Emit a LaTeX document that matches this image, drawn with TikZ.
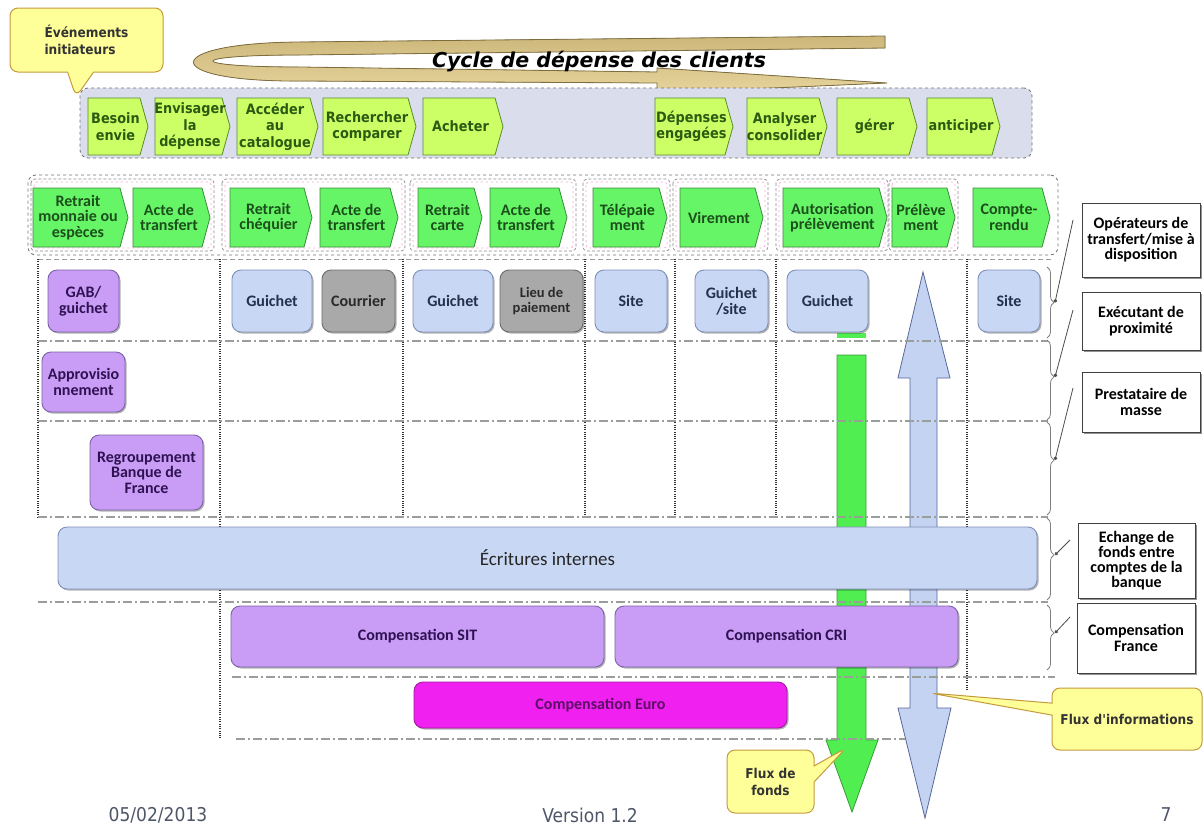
\documentclass[tikz,border=0pt]{standalone}
\usepackage{fontspec}
\setmainfont{DejaVu Sans}
\newfontfamily\calfont{Carlito}
\newfontfamily\tahfont[FakeStretch=0.9]{DejaVu Sans}
\usetikzlibrary{shapes.callouts,shadows,decorations.pathreplacing,arrows.meta}

\definecolor{limeF}{HTML}{CCFF66}
\definecolor{limeD}{HTML}{5A8A32}
\definecolor{limeT}{HTML}{2D5A12}
\definecolor{grnF}{HTML}{66F566}
\definecolor{grnD}{HTML}{3C8A3C}
\definecolor{grnT}{HTML}{1C4F1C}
\definecolor{purF}{HTML}{C99CF6}
\definecolor{purD}{HTML}{7B64A6}
\definecolor{purT}{HTML}{2F1254}
\definecolor{bluF}{HTML}{C8D7F4}
\definecolor{bluD}{HTML}{7F8FB8}
\definecolor{bluT}{HTML}{25304A}
\definecolor{gryF}{HTML}{A9A9A9}
\definecolor{gryD}{HTML}{6C6C6C}
\definecolor{gryT}{HTML}{2A2A2A}
\definecolor{magF}{HTML}{F020F0}
\definecolor{magD}{HTML}{A01CA0}
\definecolor{magT}{HTML}{5E0E66}
\definecolor{yelF}{HTML}{FFFF99}
\definecolor{yelD}{HTML}{C49A3C}
\definecolor{tanF}{HTML}{CDB77B}
\definecolor{tanL}{HTML}{E6D49C}
\definecolor{tanD}{HTML}{7E6D3D}
\definecolor{bandF}{HTML}{DADDEC}
\definecolor{lineG}{HTML}{9A9E98}
\definecolor{footT}{HTML}{4E5668}
\definecolor{arrB}{HTML}{C4D3F2}
\definecolor{arrBD}{HTML}{56679A}
\definecolor{arrG}{HTML}{50EE50}
\definecolor{arrGD}{HTML}{3A9A3A}

% chevron: style, name, x1, x2, y1, y2, text
\newcommand\chev[7]{%
  \path[#1] (#3,#5) -- ({#4-8},#5) -- (#4,{(#5+#6)/2}) -- ({#4-8},#6) -- (#3,#6) -- cycle;
  \node[#1 txt] (#2) at ({(#3+#4-5)/2},{(#5+#6)/2}) {#7};}

\tikzset{
  boxtxt/.style={font=\calfont\bfseries\fontsize{16}{15.5}\selectfont, align=center, inner sep=1pt},
  shad/.style={drop shadow={shadow xshift=1.5pt, shadow yshift=-1.5pt, opacity=.3, fill=black}},
  purbox/.style={boxtxt, shad, rounded corners=9pt, fill=purF, draw=purD, line width=.9pt, text=purT},
  blubox/.style={boxtxt, shad, rounded corners=9pt, fill=bluF, draw=bluD, line width=.9pt, text=bluT},
  grybox/.style={boxtxt, shad, rounded corners=9pt, fill=gryF, draw=gryD, line width=.9pt, text=gryT},
  magbox/.style={boxtxt, shad, rounded corners=9pt, fill=magF, draw=magD, line width=.9pt, text=magT},
  lblbox/.style={boxtxt, fill=white, draw=black!75, line width=.9pt,
    drop shadow={shadow xshift=1.8pt, shadow yshift=-1.8pt, opacity=.6, fill=black!70}},
  chA/.style={fill=limeF, draw=limeD, line width=.8pt},
  chA txt/.style={text=limeT, font=\tahfont\bfseries\fontsize{14.3}{16.5}\selectfont, align=center, inner sep=0pt},
  chB/.style={fill=grnF, draw=grnD, line width=.8pt},
  chB txt/.style={text=grnT, font=\calfont\bfseries\fontsize{16}{15.5}\selectfont, align=center, inner sep=0pt},
  yell/.style={rectangle callout, rounded corners=8pt, fill=yelF, draw=yelD, line width=1pt,
    font=\tahfont\bfseries\fontsize{13.5}{17}\selectfont, text=black!80, align=center, inner sep=2pt},
  vdot/.style={black!80, line width=1.1pt, dash pattern=on 1pt off 1.3pt},
  hdash/.style={lineG, line width=1.1pt, dash pattern=on 9pt off 3pt on 2pt off 3pt},
  grp/.style={rounded corners=4pt, draw=black!45, dash pattern=on 3pt off 2pt, line width=.7pt},
  grpin/.style={rounded corners=3pt, draw=magenta!35, dash pattern=on 2pt off 3pt, line width=.7pt},
  bracest/.style={decorate, draw=black!50, line width=.8pt},
  lead/.style={draw=black!70, line width=.8pt, -{Circle[length=3.5pt]}},
  foot/.style={font=\tahfont\fontsize{19}{22}\selectfont, text=footT},
}

\begin{document}
\begin{tikzpicture}[x=1pt,y=-1pt]
\useasboundingbox (0,0) rectangle (1204,838);
\fill[white] (0,0) rectangle (1204,838);

% ---- spending cycle loop arrow and title
\filldraw[top color=tanF, bottom color=tanL, draw=tanD, line width=.8pt]
  (885,36) -- (300,42) .. controls (158,43) and (158,82) .. (300,81)
  -- (657,83) -- (657,93) -- (887,83) -- (657,68) -- (657,72)
  -- (300,67) .. controls (184,67) and (184,55) .. (300,55) -- (885,48) -- cycle;
\node[font=\bfseries\itshape\fontsize{20.5}{24}\selectfont] (title) at (599,62) {Cycle de dépense des clients};

% ---- customer spending steps
\node[fill=bandF, draw=black!55, dashed, rounded corners=8pt, minimum width=952, minimum height=70, line width=.8pt] (cycleband) at (556,123) {};
\chev{chA}{c1}{88}{148}{98}{155}{Besoin\\envie}
\chev{chA}{c2}{155}{230}{98}{155}{Envisager\\la\\dépense}
\chev{chA}{c3}{237}{318}{98}{155}{Accéder\\au\\catalogue}
\chev{chA}{c4}{323}{416}{98}{155}{Rechercher\\comparer}
\chev{chA}{c5}{423}{503}{98}{155}{Acheter}
\chev{chA}{c6}{655}{733}{98}{155}{Dépenses\\engagées}
\chev{chA}{c7}{747}{827}{98}{155}{Analyser\\consolider}
\chev{chA}{c8}{837}{917}{98}{155}{gérer}
\chev{chA}{c9}{927}{1000}{98}{155}{anticiper}

% ---- payment instruments band
\node[draw=black!55, dashed, rounded corners=8pt, minimum width=1030, minimum height=80, line width=.8pt] (instrband) at (543,215) {};
\foreach \a/\b in {31/214, 222/405, 410/576, 583/670, 673/768, 776/888, 889/958}{
  \draw[grp] (\a,179) rectangle (\b,251);
  \draw[grpin] ({\a+3},182) rectangle ({\b-3},248);
}
\chev{chB}{d1}{33}{128}{188}{247}{Retrait\\monnaie ou\\espèces}
\chev{chB}{d2}{133}{210}{188}{247}{Acte de\\transfert}
\chev{chB}{d3}{230}{312}{188}{247}{Retrait\\chéquier}
\chev{chB}{d4}{320}{398}{188}{247}{Acte de\\transfert}
\chev{chB}{d5}{418}{482}{188}{247}{Retrait\\carte}
\chev{chB}{d6}{490}{567}{188}{247}{Acte de\\transfert}
\chev{chB}{d7}{593}{667}{188}{247}{Télépaie\\ment}
\chev{chB}{d8}{680}{763}{188}{247}{Virement}
\chev{chB}{d9}{783}{887}{188}{247}{Autorisation\\prélèvement}
\chev{chB}{d10}{892}{955}{188}{247}{Prélève\\ment}
\chev{chB}{d11}{973}{1050}{188}{247}{Compte-\\rendu}

% ---- flow arrows (funds in green, information in blue)
\fill[arrG] (837,333) rectangle (866,338);
\filldraw[fill=arrG, draw=arrGD, line width=.8pt]
  (837,355) -- (866,355) -- (866,740) -- (878,740) -- (852,812) -- (826,740) -- (837,740) -- cycle;
\filldraw[fill=arrB, draw=arrBD, line width=.8pt]
  (923,272) -- (950,378) -- (937,378) -- (937,708) -- (951,708) -- (925,818)
  -- (898,708) -- (910,708) -- (910,378) -- (898,378) -- cycle;

% ---- grid
\draw[lineG, line width=1pt, dash pattern=on 5pt off 3pt] (38,259) -- (1053,259);
\foreach \x/\yb in {38/517, 220/739, 403/517, 585/517, 675/517, 776/517, 967/690}
  \draw[vdot] (\x,259) -- (\x,\yb);
\foreach \y in {341,421,517,602}
  \draw[hdash] (38,\y) -- (1048,\y);
\draw[hdash] (232,677) -- (1055,677);
\draw[hdash] (236,739) -- (905,739);

% ---- actors
\node[purbox, minimum width=71, minimum height=62] (gab) at (83.5,301) {GAB/\\guichet};
\node[blubox, minimum width=80, minimum height=62] (gui1) at (272,301) {Guichet};
\node[grybox, minimum width=73, minimum height=62] (cour) at (358.5,301) {Courrier};
\node[blubox, minimum width=80, minimum height=62] (gui2) at (453,301) {Guichet};
\node[grybox, minimum width=83, minimum height=62, font=\calfont\bfseries\fontsize{14.5}{14.5}\selectfont] (lieu) at (541.5,301) {Lieu de\\paiement};
\node[blubox, minimum width=72, minimum height=62] (site1) at (631,301) {Site};
\node[blubox, minimum width=73, minimum height=62] (guisite) at (731.5,301) {Guichet\\/site};
\node[blubox, minimum width=81, minimum height=62] (gui3) at (827.5,301) {Guichet};
\node[blubox, minimum width=62, minimum height=62] (site2) at (1009,301) {Site};
\node[purbox, minimum width=83, minimum height=60] (appro) at (83.5,382) {Approvisio\\nnement};
\node[purbox, minimum width=113, minimum height=75] (regr) at (146.5,472.5) {Regroupement\\Banque de\\France};
\node[blubox, minimum width=979, minimum height=62, font=\calfont\fontsize{19}{22}\selectfont, text=black!85] (ecr) at (547.5,558) {Écritures internes};
\node[purbox, minimum width=373, minimum height=61] (sit) at (417.5,636.5) {Compensation SIT};
\node[purbox, minimum width=343, minimum height=61] (cri) at (786.5,636.5) {Compensation CRI};
\node[magbox, minimum width=373, minimum height=46] (euro) at (600.5,705) {Compensation Euro};

% ---- layer labels
\node[lblbox, minimum width=118, minimum height=74] (oper) at (1141,240) {Opérateurs de\\transfert/mise à\\disposition};
\node[lblbox, minimum width=118, minimum height=58] (exec) at (1141,321) {Exécutant de\\proximité};
\node[lblbox, minimum width=118, minimum height=60] (prest) at (1141,402) {Prestataire de\\masse};
\node[lblbox, minimum width=117, minimum height=75, font=\calfont\bfseries\fontsize{16}{15}\selectfont] (ech) at (1136.5,560.5) {Echange de\\fonds entre\\comptes de la\\banque};
\node[lblbox, minimum width=118, minimum height=70] (cfr) at (1136,638) {Compensation\\France};

\draw[bracest, decoration={brace, amplitude=7pt, aspect=0.5}] (1047,267) -- (1047,338);
\draw[bracest, decoration={brace, amplitude=7pt, aspect=0.46}] (1047,340) -- (1047,420);
\draw[bracest, decoration={brace, amplitude=7pt, aspect=0.41}] (1047,422) -- (1047,515);
\draw[bracest, decoration={brace, amplitude=7pt, aspect=0.45}] (1047,518) -- (1047,600);
\draw[bracest, decoration={brace, amplitude=7pt, aspect=0.43}] (1047,605) -- (1047,670);

\coordinate (bt1) at (1055,302.5);
\coordinate (bt2) at (1055,377);
\coordinate (bt3) at (1055,460);
\coordinate (bt4) at (1055,555);
\coordinate (bt5) at (1055,633);
\coordinate (l1) at (1073,220);
\coordinate (l2) at (1073,310);
\coordinate (l3) at (1073,388);
\coordinate (l4) at (1070,540);
\coordinate (l5) at (1070,617);
\draw[lead] (l1) -- (bt1);
\draw[lead] (l2) -- (bt2);
\draw[lead] (l3) -- (bt3);
\draw[lead] (l4) -- (bt4);
\draw[lead] (l5) -- (bt5);

% ---- callouts
\node[yell, align=left, callout absolute pointer={(76,97)}, callout pointer width=26pt, minimum width=153, minimum height=64] (evt) at (86.5,40) {Événements\\initiateurs};
\node[yell, callout absolute pointer={(930,693)}, callout pointer width=12pt, minimum width=150, minimum height=62] (finfo) at (1127,719) {Flux d'informations};
\node[yell, callout absolute pointer={(846,748)}, callout pointer width=16pt, minimum width=87, minimum height=63] (ffonds) at (770.5,781.5) {Flux de\\fonds};

% ---- footer
\node[foot] (date) at (158,815) {05/02/2013};
\node[foot] (ver) at (590,815) {Version 1.2};
\node[foot] (page) at (1166,815) {7};
\end{tikzpicture}
\end{document}
